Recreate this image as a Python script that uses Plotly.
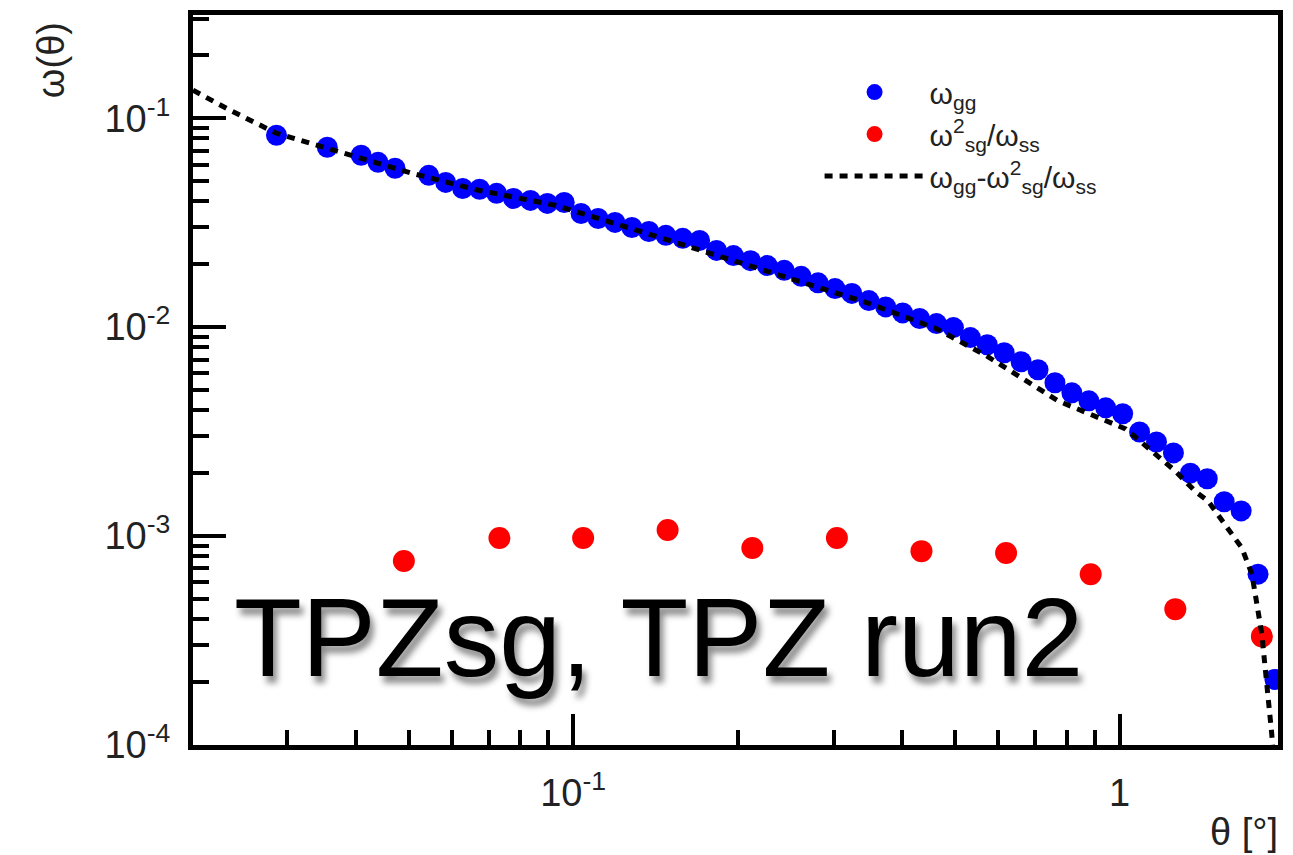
import plotly.graph_objects as go

# omega_gg (blue points)
theta_gg = [0.02865, 0.03549, 0.04093, 0.04395, 0.04721, 0.05442, 0.05845, 0.06278, 0.06743, 0.07243,
            0.07779, 0.08354, 0.08971, 0.09632, 0.1034, 0.1111, 0.1193, 0.1281, 0.1376, 0.1478,
            0.1587, 0.1704, 0.1830, 0.1965, 0.2111, 0.2267, 0.2434, 0.2614, 0.2807, 0.3015,
            0.3237, 0.3477, 0.3733, 0.4009, 0.4306, 0.4624, 0.4966, 0.5333, 0.5727, 0.6150,
            0.6604, 0.7093, 0.7617, 0.8180, 0.8787, 0.9434, 1.0132, 1.0881, 1.1685, 1.2549,
            1.3477, 1.4472, 1.5543, 1.6692, 1.7926, 1.9248]
w_gg = [0.0829, 0.0726, 0.0665, 0.0615, 0.0576, 0.0533, 0.0493, 0.0461, 0.0457, 0.0437,
        0.0413, 0.0404, 0.0391, 0.0395, 0.0350, 0.0331, 0.0317, 0.0300, 0.0287, 0.0275,
        0.0266, 0.0260, 0.0233, 0.0220, 0.0208, 0.0197, 0.0187, 0.0175, 0.0163, 0.0153,
        0.0145, 0.0134, 0.0125, 0.0117, 0.0110, 0.0104, 0.00995, 0.00891, 0.00824, 0.00754,
        0.00683, 0.00625, 0.00542, 0.00485, 0.00444, 0.00411, 0.00385, 0.00315, 0.00282, 0.00250,
        0.00200, 0.00188, 0.00146, 0.00132, 0.000657, 0.000206]

# omega_sg^2 / omega_ss (red points)
theta_sg = [0.0490, 0.0733, 0.1043, 0.1489, 0.2128, 0.3039, 0.4340, 0.6199, 0.8855, 1.265, 1.822]
w_sg2_ss = [7.59e-4, 9.78e-4, 9.78e-4, 1.069e-3, 8.76e-4, 9.78e-4, 8.47e-4, 8.29e-4, 6.57e-4, 4.47e-4, 3.31e-4]

# omega_gg - omega_sg^2/omega_ss (dashed curve)
theta_diff = [0.02015, 0.02353, 0.02865, 0.03780, 0.05069, 0.06714, 0.09274, 0.1313, 0.1837, 0.2569,
              0.3446, 0.4622, 0.5701, 0.7709, 1.0254, 1.2647, 1.375, 1.4525, 1.5403, 1.6749,
              1.7470, 1.7914, 1.8218, 1.8446, 1.8680, 1.8836, 1.8997, 1.9155]
w_diff = [0.1362, 0.1093, 0.0847, 0.0687, 0.0545, 0.0452, 0.0383, 0.0290, 0.0220, 0.0167,
          0.0131, 0.00983, 0.00730, 0.00444, 0.00326, 0.00205, 0.00164, 0.00147, 0.00118, 0.000876,
          0.000657, 0.000452, 0.000339, 0.000243, 0.000181, 0.000134, 0.000112, 0.0000833]

x_major = [0.1, 1]
x_major_text = ["10<sup>-1</sup>", "1"]
x_minor = [0.03, 0.04, 0.05, 0.06, 0.07, 0.08, 0.09, 0.2, 0.3, 0.4, 0.5, 0.6, 0.7, 0.8, 0.9]
y_major = [1e-4, 1e-3, 1e-2, 1e-1]
y_major_text = ["10<sup>-4</sup>", "10<sup>-3</sup>", "10<sup>-2</sup>", "10<sup>-1</sup>"]
y_minor = [m * 10.0 ** e for e in (-4, -3, -2, -1) for m in range(2, 10)]

FONT = "Liberation Sans, Arial, Helvetica, sans-serif"

fig = go.Figure()
fig.add_trace(go.Scatter(x=theta_gg, y=w_gg, mode="markers", name="ω<sub>gg</sub>",
                         marker=dict(color="#0000ff", size=21, line=dict(width=0))))
fig.add_trace(go.Scatter(x=theta_sg, y=w_sg2_ss, mode="markers",
                         name="ω<sup>2</sup><sub>sg</sub>/ω<sub>ss</sub>",
                         marker=dict(color="#ff0000", size=22, line=dict(width=0))))
fig.add_trace(go.Scatter(x=theta_diff, y=w_diff, mode="lines",
                         name="ω<sub>gg</sub>-ω<sup>2</sup><sub>sg</sub>/ω<sub>ss</sub>",
                         line=dict(color="black", width=5, dash="8px,7px")))

axis_common = dict(type="log", showline=True, linecolor="black", linewidth=5, mirror=True,
                   showgrid=False, zeroline=False, ticks="inside", tickwidth=4,
                   tickcolor="black", tickfont=dict(family=FONT, size=38, color="#222"))

fig.update_xaxes(**axis_common, range=[-1.6957, 0.2900], tickmode="array",
                 tickvals=x_major, ticktext=x_major_text, ticklen=31, ticklabelstandoff=10,
                 minor=dict(tickmode="array", tickvals=x_minor, ticks="inside", ticklen=15,
                            tickwidth=4, tickcolor="black", showgrid=False))
fig.update_yaxes(**axis_common, range=[-4, -0.506], tickmode="array",
                 tickvals=y_major, ticktext=y_major_text, ticklen=33, ticklabelstandoff=10,
                 minor=dict(tickmode="array", tickvals=y_minor, ticks="inside", ticklen=16,
                            tickwidth=4, tickcolor="black", showgrid=False))

fig.add_annotation(text="ω(θ)", xref="paper", yref="paper", x=-0.131, y=0.938,
                   textangle=-90, showarrow=False, xanchor="center", yanchor="middle",
                   font=dict(family=FONT, size=38, color="#222"))
fig.add_annotation(text="θ [°]", xref="paper", yref="paper", x=1.0018, y=-0.119,
                   showarrow=False, xanchor="right", yanchor="middle",
                   font=dict(family=FONT, size=38, color="#222"))
fig.add_annotation(text="TPZsg, TPZ run2", xref="paper", yref="paper", x=0.4294, y=0.146,
                   showarrow=False, xanchor="center", yanchor="middle",
                   font=dict(family=FONT, size=111,
                             color="black", shadow="4px 7px 6px rgba(0,0,0,0.45)"))

fig.update_layout(
    width=1293, height=855,
    margin=dict(l=193, r=10, t=15, b=110),
    paper_bgcolor="white", plot_bgcolor="white",
    showlegend=True,
    legend=dict(x=0.5775, y=0.930, xanchor="left", yanchor="top", bgcolor="rgba(0,0,0,0)",
                borderwidth=0, font=dict(family=FONT, size=30, color="#222"),
                itemwidth=100, tracegroupgap=0),
)

fig.write_html("out.html")
